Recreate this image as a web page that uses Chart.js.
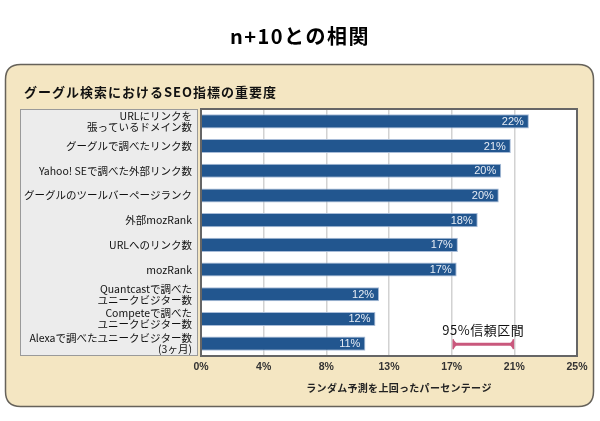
<!DOCTYPE html>
<html><head><meta charset="utf-8">
<script src="https://cdn.jsdelivr.net/npm/chart.js@4/dist/chart.umd.min.js"></script>
<style>html,body{margin:0;padding:0;background:#fff}#wrap{width:600px;height:421px;position:relative}</style>
</head><body><div id="wrap"><canvas id="c" width="600" height="421"></canvas></div>
<script>
const chartTitle = 'n+10との相関';
const panelTitle = 'グーグル検索におけるSEO指標の重要度';
const axisTitle = 'ランダム予測を上回ったパーセンテージ';
const categories = [
  ['URLにリンクを','張っているドメイン数'],
  'グーグルで調べたリンク数',
  'Yahoo! SEで調べた外部リンク数',
  'グーグルのツールバーページランク',
  '外部mozRank',
  'URLへのリンク数',
  'mozRank',
  ['Quantcastで調べた','ユニークビジター数'],
  ['Competeで調べた','ユニークビジター数'],
  ['Alexaで調べたユニークビジター数','(3ヶ月)']
];
const values = [21.8, 20.6, 19.96, 19.8, 18.4, 17.08, 17.0, 11.84, 11.6, 10.93];
const valueLabels = ['22%','21%','20%','20%','18%','17%','17%','12%','12%','11%'];
const tickValues = [0, 25/6, 50/6, 75/6, 100/6, 125/6, 25];
const tickLabels = ['0%','4%','8%','13%','17%','21%','25%'];
const ciRange = [16.77, 20.77];
const ciLabel = '95%信頼区間';

const FONT = '"Noto Sans CJK JP", "Noto Sans", sans-serif';
const LFONT = '"Liberation Sans", "Noto Sans CJK JP", sans-serif';

function roundRect(ctx, x, y, w, h, r) {
  ctx.beginPath();
  ctx.moveTo(x + r, y);
  ctx.lineTo(x + w - r, y);
  ctx.quadraticCurveTo(x + w, y, x + w, y + r);
  ctx.lineTo(x + w, y + h - r);
  ctx.quadraticCurveTo(x + w, y + h, x + w - r, y + h);
  ctx.lineTo(x + r, y + h);
  ctx.quadraticCurveTo(x, y + h, x, y + h - r);
  ctx.lineTo(x, y + r);
  ctx.quadraticCurveTo(x, y, x + r, y);
  ctx.closePath();
}

const decor = {
  id: 'decor',
  beforeDraw(chart) {
    const ctx = chart.ctx, a = chart.chartArea;
    ctx.save();
    ctx.fillStyle = '#fff';
    ctx.fillRect(0, 0, chart.width, chart.height);
    ctx.fillStyle = '#000';
    ctx.font = 'bold 20px ' + FONT;
    ctx.textAlign = 'center';
    ctx.textBaseline = 'middle';
    ctx.letterSpacing = '1.5px';
    ctx.fillText(chartTitle, 300, 36);
    roundRect(ctx, 5.5, 64.5, 588, 342, 15);
    ctx.fillStyle = '#f4e6c2';
    ctx.fill();
    ctx.lineWidth = 1.5;
    ctx.strokeStyle = '#66625a';
    ctx.stroke();
    ctx.fillStyle = '#111';
    ctx.font = 'bold 13px ' + FONT;
    ctx.textAlign = 'left';
    ctx.letterSpacing = '1px';
    ctx.fillText(panelTitle, 24, 92);
    ctx.letterSpacing = '0px';
    ctx.fillStyle = '#ececec';
    ctx.fillRect(20.5, a.top + 0.5, 177, a.bottom - a.top - 1);
    ctx.lineWidth = 1;
    ctx.strokeStyle = '#9a9a9a';
    ctx.strokeRect(20.5, a.top + 0.5, 177, a.bottom - a.top - 1);
    ctx.fillStyle = '#fff';
    ctx.fillRect(a.left, a.top, a.right - a.left, a.bottom - a.top);
    ctx.fillStyle = '#222';
    ctx.font = 'bold 10px ' + FONT;
    ctx.textAlign = 'center';
    ctx.letterSpacing = '0.3px';
    ctx.fillText(axisTitle, 399, 388);
    ctx.restore();
  },
  afterDatasetsDraw(chart) {
    const ctx = chart.ctx, a = chart.chartArea;
    const meta = chart.getDatasetMeta(0);
    const xs = chart.scales.x, ys = chart.scales.y;
    ctx.save();
    ctx.fillStyle = '#e6ecf5';
    ctx.font = '11px ' + LFONT;
    ctx.textAlign = 'right';
    ctx.textBaseline = 'middle';
    meta.data.forEach((bar, i) => {
      ctx.fillText(valueLabels[i], bar.x - 5, bar.y + 0.5);
    });
    const x0 = xs.getPixelForValue(ciRange[0]);
    const x1 = xs.getPixelForValue(ciRange[1]);
    const y = ys.getPixelForValue(values.length - 1) + 0.5;
    ctx.strokeStyle = '#c9587c';
    ctx.fillStyle = '#c9587c';
    ctx.lineWidth = 3;
    ctx.beginPath();
    ctx.moveTo(x0, y); ctx.lineTo(x1, y); ctx.stroke();
    ctx.beginPath();
    ctx.moveTo(x0, y - 5); ctx.lineTo(x0 + 4, y); ctx.lineTo(x0, y + 5); ctx.closePath(); ctx.fill();
    ctx.beginPath();
    ctx.moveTo(x1, y - 5); ctx.lineTo(x1 - 4, y); ctx.lineTo(x1, y + 5); ctx.closePath(); ctx.fill();
    ctx.lineWidth = 1.5;
    ctx.beginPath(); ctx.moveTo(x0, y - 5); ctx.lineTo(x0, y + 5); ctx.stroke();
    ctx.beginPath(); ctx.moveTo(x1, y - 5); ctx.lineTo(x1, y + 5); ctx.stroke();
    ctx.fillStyle = '#111';
    ctx.font = '13px ' + FONT;
    ctx.textAlign = 'center';
    ctx.letterSpacing = '0.5px';
    ctx.fillText(ciLabel, (x0 + x1) / 2, y - 14);
    ctx.letterSpacing = '0px';
    ctx.lineWidth = 2;
    ctx.strokeStyle = '#666';
    ctx.strokeRect(a.left, a.top, a.right - a.left, a.bottom - a.top);
    ctx.restore();
  }
};

new Chart(document.getElementById('c'), {
  type: 'bar',
  data: {
    labels: categories,
    datasets: [{
      data: values,
      backgroundColor: '#22568f',
      borderColor: '#a8bcd8',
      borderWidth: 1,
      borderSkipped: 'left',
      categoryPercentage: 1,
      barPercentage: 0.57
    }]
  },
  options: {
    indexAxis: 'y',
    responsive: false,
    animation: false,
    devicePixelRatio: 1,
    layout: { padding: { top: 109, left: 0, right: 23, bottom: 0 } },
    plugins: { legend: { display: false }, tooltip: { enabled: false } },
    scales: {
      x: {
        min: 0, max: 25,
        afterBuildTicks(scale) { scale.ticks = tickValues.map(v => ({ value: v })); },
        afterFit(scale) { scale.height = 65; },
        grid: { color: '#d2d2d2', lineWidth: 1.5, drawTicks: false },
        border: { display: false },
        ticks: {
          padding: 5,
          color: '#333',
          font: { family: LFONT, size: 10.5, weight: 'bold' },
          maxRotation: 0,
          autoSkip: false,
          callback: (v, i) => tickLabels[i]
        }
      },
      y: {
        afterFit(scale) { scale.width = 201; },
        grid: { display: false, drawTicks: false },
        border: { display: false },
        ticks: {
          padding: 9,
          color: '#111',
          font: { family: FONT, size: 10.5, lineHeight: 1.05 },
          autoSkip: false
        }
      }
    }
  },
  plugins: [decor]
});
</script>
</body></html>
